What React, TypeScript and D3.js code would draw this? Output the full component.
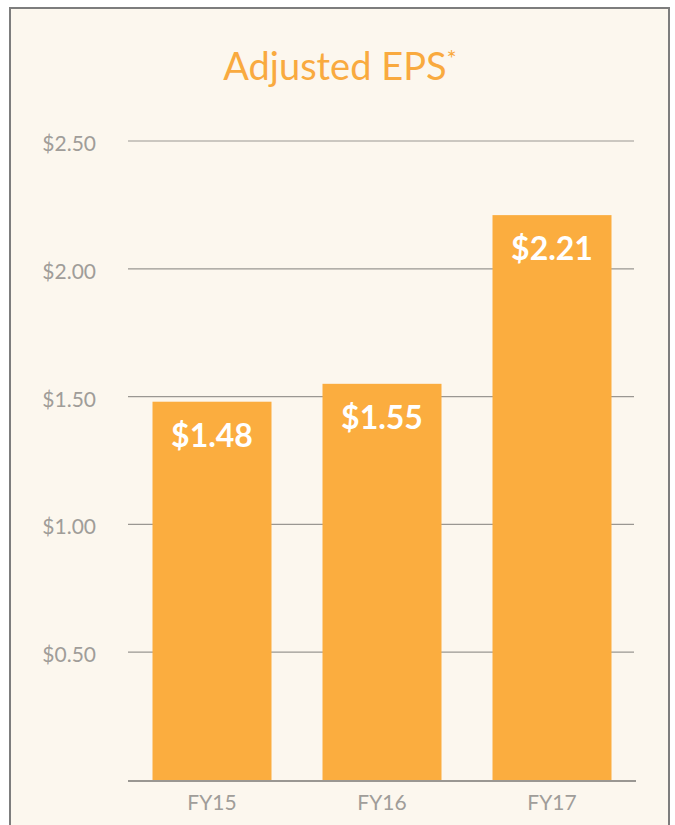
import React, { useRef, useEffect } from 'react';
import * as d3 from 'd3';

const categories = ['FY15', 'FY16', 'FY17'];
const epsValues = [1.48, 1.55, 2.21];
const tickValues = [0.5, 1.0, 1.5, 2.0, 2.5];
const valueLabels = ['$1.48', '$1.55', '$2.21'];

const App: React.FC = () => {
  const svgRef = useRef<SVGSVGElement | null>(null);

  useEffect(() => {
    if (!svgRef.current) return;
    const svg = d3.select(svgRef.current);
    svg.selectAll('*').remove();

    const width = 675;
    const height = 825;
    const font = 'Lato, "Open Sans", sans-serif';

    // panel
    svg.append('rect')
      .attr('width', width)
      .attr('height', height)
      .attr('fill', '#ffffff');
    svg.append('rect')
      .attr('x', 10)
      .attr('y', 8)
      .attr('width', 659)
      .attr('height', 840)
      .attr('fill', '#fcf7ee')
      .attr('stroke', '#7d7d7d')
      .attr('stroke-width', 2);

    // title
    const title = svg.append('text')
      .attr('x', 340)
      .attr('y', 80)
      .attr('text-anchor', 'middle')
      .attr('font-family', font)
      .attr('font-size', 38)
      .attr('fill', '#f9aa3f');
    title.append('tspan').text('Adjusted EPS');
    title.append('tspan').attr('font-size', 24).attr('dy', -13).text('*');

    const xScale = d3.scaleBand<string>()
      .domain(categories)
      .range([127, 637])
      .paddingInner(0.3)
      .paddingOuter(0.15);

    const yScale = d3.scaleLinear()
      .domain([0, 2.5])
      .range([780, 141]);

    // gridlines
    svg.append('g')
      .selectAll('line')
      .data(tickValues)
      .join('line')
      .attr('x1', 128)
      .attr('x2', 634)
      .attr('y1', d => yScale(d))
      .attr('y2', d => yScale(d))
      .attr('stroke', '#9a9792')
      .attr('stroke-width', 1.2);

    // y tick labels
    svg.append('g')
      .selectAll('text')
      .data(tickValues)
      .join('text')
      .attr('x', 96)
      .attr('y', d => yScale(d) + 10)
      .attr('text-anchor', 'end')
      .attr('font-family', font)
      .attr('font-size', 21)
      .attr('fill', '#a09d99')
      .text(d => '$' + d3.format('.2f')(d));

    // bars
    svg.append('g')
      .selectAll('rect')
      .data(epsValues)
      .join('rect')
      .attr('x', (d, i) => xScale(categories[i]) as number)
      .attr('y', d => yScale(d))
      .attr('width', xScale.bandwidth())
      .attr('height', d => yScale(0) - yScale(d))
      .attr('fill', '#fbad3f');

    // value labels
    svg.append('g')
      .selectAll('text')
      .data(epsValues)
      .join('text')
      .attr('x', (d, i) => (xScale(categories[i]) as number) + xScale.bandwidth() / 2)
      .attr('y', d => yScale(d) + 45)
      .attr('text-anchor', 'middle')
      .attr('font-family', font)
      .attr('font-weight', 'bold')
      .attr('font-size', 32)
      .attr('fill', '#ffffff')
      .text((d, i) => valueLabels[i]);

    // baseline
    svg.append('line')
      .attr('x1', 128)
      .attr('x2', 636)
      .attr('y1', yScale(0) + 1)
      .attr('y2', yScale(0) + 1)
      .attr('stroke', '#9a9792')
      .attr('stroke-width', 2);

    // x labels
    svg.append('g')
      .selectAll('text')
      .data(categories)
      .join('text')
      .attr('x', d => (xScale(d) as number) + xScale.bandwidth() / 2)
      .attr('y', 810)
      .attr('text-anchor', 'middle')
      .attr('font-family', font)
      .attr('font-size', 21)
      .attr('fill', '#a09d99')
      .text(d => d);
  }, []);

  return (
    <svg
      ref={svgRef}
      width={675}
      height={825}
      style={{ position: 'absolute', left: 0, top: 0, display: 'block' }}
    />
  );
};

export default App;
